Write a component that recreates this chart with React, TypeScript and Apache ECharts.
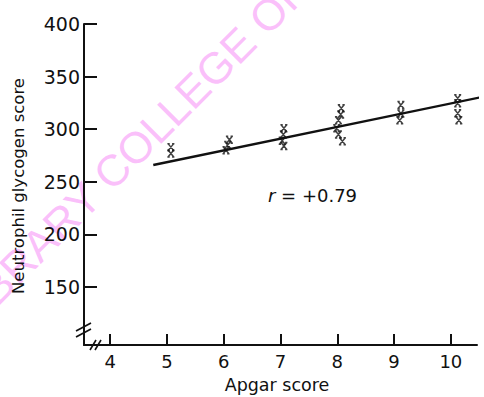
import React, { useEffect, useRef } from "react";
import * as echarts from "echarts";

const xTicks = [4, 5, 6, 7, 8, 9, 10];
const yTicks = [150, 200, 250, 300, 350, 400];

// Apgar score (x) and neutrophil glycogen score (y) for each observation
const apgarValues = [
  5.07, 5.07,
  6.1, 6.07, 6.04,
  7.06, 7.05, 7.03, 7.06,
  8.07, 8.06, 8.02, 7.99, 8.02, 8.09,
  9.12, 9.12, 9.1,
  10.12, 10.12, 10.12, 10.14,
];
const glycogenValues = [
  283, 277,
  290, 285, 280,
  301, 295, 289, 284,
  320, 314, 308.6, 301, 295, 288.6,
  323, 315, 308.6,
  329.5, 324.8, 315.2, 308.6,
];

// Regression line end points
const fitX = [4.76, 10.58];
const fitY = [266, 331];

const rLabel = "+0.79";

export default function App() {
  const ref = useRef<HTMLDivElement>(null);
  useEffect(() => {
    if (!ref.current) return;
    const chart = echarts.init(ref.current, null, { renderer: "svg" });
    const font = "DejaVu Sans";
    const ink = "#111111";
    const xSymbol = "path://M0,0L10,12M10,0L0,12M-1,0L3,0M7,0L11,0M-1,12L3,12M7,12L11,12";
    chart.setOption({
      animation: false,
      backgroundColor: "#ffffff",
      grid: { left: 84, right: 7, top: 24, bottom: 52, containLabel: false },
      xAxis: {
        type: "value",
        min: 3.54,
        max: 10.46,
        splitLine: { show: false },
        axisLine: { show: true, lineStyle: { color: ink, width: 2 } },
        axisTick: {
          show: true,
          inside: true,
          length: 11,
          customValues: xTicks,
          lineStyle: { color: ink, width: 2 },
        },
        axisLabel: {
          customValues: xTicks,
          margin: 7,
          fontFamily: font,
          fontSize: 18,
          color: ink,
        },
      },
      yAxis: {
        type: "value",
        min: 95,
        max: 400,
        splitLine: { show: false },
        axisLine: { show: true, lineStyle: { color: ink, width: 2 } },
        axisTick: {
          show: true,
          inside: true,
          length: 13,
          customValues: yTicks,
          lineStyle: { color: ink, width: 2 },
        },
        axisLabel: {
          customValues: yTicks,
          margin: 4,
          fontFamily: font,
          fontSize: 19,
          color: ink,
        },
      },
      graphic: [
        {
          type: "text",
          z: -10,
          x: -24,
          y: 338,
          rotation: Math.PI / 4,
          silent: true,
          style: {
            text: "LIBRARY COLLEGE OF",
            fontFamily: "Liberation Sans",
            fontSize: 44,
            fill: "rgba(248, 150, 248, 0.6)",
            textAlign: "left",
            textVerticalAlign: "bottom",
          },
        },
        {
          type: "text",
          x: 18,
          y: 186,
          rotation: Math.PI / 2,
          style: {
            text: "Neutrophil glycogen score",
            fontFamily: font,
            fontSize: 16.5,
            fill: ink,
            textAlign: "center",
            textVerticalAlign: "middle",
          },
        },
        {
          type: "text",
          x: 277,
          y: 385,
          style: {
            text: "Apgar score",
            fontFamily: font,
            fontSize: 17.5,
            fill: ink,
            textAlign: "center",
            textVerticalAlign: "middle",
          },
        },
        {
          type: "text",
          x: 268,
          y: 195,
          style: {
            text: "{i|r} = " + rLabel,
            fontFamily: font,
            fontSize: 18,
            fill: ink,
            textAlign: "left",
            textVerticalAlign: "middle",
            rich: {
              i: { fontFamily: font, fontStyle: "italic", fontSize: 18, fill: ink },
            },
          },
        },
        // axis break marks
        { type: "line", shape: { x1: 76, y1: 331, x2: 91, y2: 323 }, style: { stroke: ink, lineWidth: 1.6 } },
        { type: "line", shape: { x1: 76, y1: 337, x2: 91, y2: 329 }, style: { stroke: ink, lineWidth: 1.6 } },
        { type: "line", shape: { x1: 90, y1: 350, x2: 96, y2: 340 }, style: { stroke: ink, lineWidth: 1.6 } },
        { type: "line", shape: { x1: 95, y1: 350, x2: 101, y2: 340 }, style: { stroke: ink, lineWidth: 1.6 } },
      ],
      series: [
        {
          type: "line",
          data: fitX.map((x, i) => [x, fitY[i]]),
          showSymbol: false,
          clip: false,
          lineStyle: { color: ink, width: 2.4 },
          z: 2,
        },
        {
          type: "scatter",
          data: apgarValues.map((x, i) => [x, glycogenValues[i]]),
          symbol: xSymbol,
          symbolSize: [7, 7],
          itemStyle: { color: "rgba(0,0,0,0)", borderColor: ink, borderWidth: 1.5 },
          z: 3,
        },
      ],
    });
    return () => chart.dispose();
  }, []);
  return (
    <div
      ref={ref}
      style={{ position: "fixed", left: 0, top: 0, width: 484, height: 397, background: "#fff" }}
    />
  );
}
